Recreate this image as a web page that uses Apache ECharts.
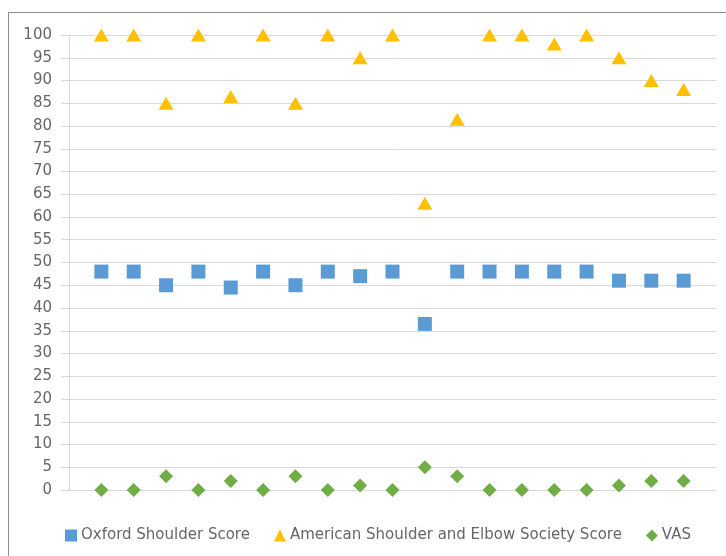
<!DOCTYPE html>
<html>
<head>
<meta charset="utf-8">
<script src="https://cdn.jsdelivr.net/npm/echarts@6/dist/echarts.min.js"></script>
<style>
  html, body { margin: 0; padding: 0; background: #fff; }
  #frame { position: absolute; left: 8px; top: 12px; width: 740px; height: 560px;
           border-left: 1px solid #8f8f8f; border-top: 1px solid #8f8f8f; }
  #chart { position: absolute; left: 0; top: 0; width: 726px; height: 556px; }
</style>
</head>
<body>
<div id="frame"></div>
<div id="chart"></div>
<script>
// patient index 1..19 (x axis hidden, runs 0..20 like the excel scatter)
const patients = [1, 2, 3, 4, 5, 6, 7, 8, 9, 10, 11, 12, 13, 14, 15, 16, 17, 18, 19];
const oxford = [48, 48, 45, 48, 44.5, 48, 45, 48, 47, 48, 36.5, 48, 48, 48, 48, 48, 46, 46, 46];
const ases = [100, 100, 85, 100, 86.5, 100, 85, 100, 95, 100, 63, 81.5, 100, 100, 98, 100, 95, 90, 88];
const vas = [0, 0, 3, 0, 2, 0, 3, 0, 1, 0, 5, 3, 0, 0, 0, 0, 1, 2, 2];
const yTicks = [0, 5, 10, 15, 20, 25, 30, 35, 40, 45, 50, 55, 60, 65, 70, 75, 80, 85, 90, 95, 100];

const pair = arr => patients.map((p, i) => [p, arr[i]]);
const font = 'DejaVu Sans';

const chart = echarts.init(document.getElementById('chart'));
chart.setOption({
    animation: false,
    textStyle: { fontFamily: font },
    grid: { left: 69, right: 10, top: 35, bottom: 66, containLabel: false },
    xAxis: { type: 'value', min: 0, max: 20, show: false },
    yAxis: {
        type: 'value',
        min: yTicks[0],
        max: yTicks[yTicks.length - 1],
        interval: 5,
        axisLine: { show: true, lineStyle: { color: '#d9d9d9', width: 1 } },
        axisTick: { show: true, length: 8, lineStyle: { color: '#d9d9d9' } },
        axisLabel: { color: '#666', fontSize: 15, fontFamily: font, margin: 17 },
        splitLine: { lineStyle: { color: '#d9d9d9', width: 1 } }
    },
    legend: {
        left: 60,
        top: 523,
        itemWidth: 12,
        itemHeight: 12,
        itemGap: 24,
        textStyle: { color: '#666', fontSize: 15, fontFamily: font, padding: [0, 0, 0, -1] },
        data: ['Oxford Shoulder Score', 'American Shoulder and Elbow Society Score', 'VAS']
    },
    series: [
        {
            name: 'Oxford Shoulder Score',
            type: 'scatter',
            symbol: 'rect',
            symbolSize: 14,
            itemStyle: { color: '#5b9bd5', opacity: 1 },
            data: pair(oxford)
        },
        {
            name: 'American Shoulder and Elbow Society Score',
            type: 'scatter',
            symbol: 'triangle',
            symbolSize: [15, 13],
            itemStyle: { color: '#ffc000', opacity: 1 },
            data: pair(ases)
        },
        {
            name: 'VAS',
            type: 'scatter',
            symbol: 'diamond',
            symbolSize: 14,
            itemStyle: { color: '#70ad47', opacity: 1 },
            data: pair(vas)
        }
    ]
});
</script>
</body>
</html>
